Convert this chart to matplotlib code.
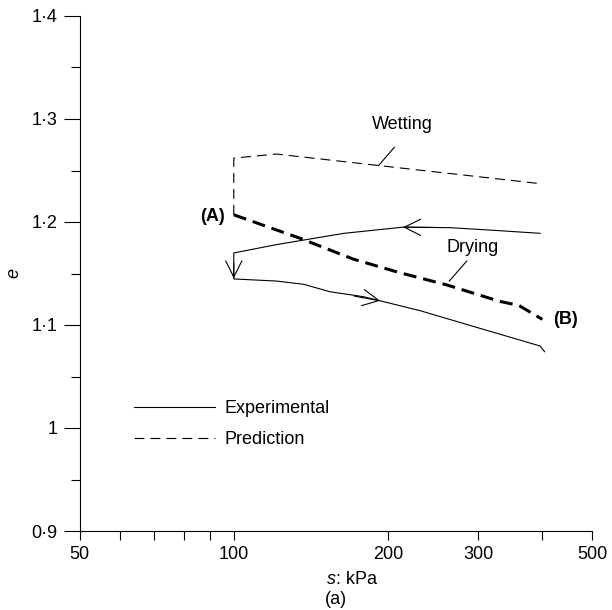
import matplotlib
matplotlib.use("Agg")
import matplotlib.pyplot as plt
from matplotlib.ticker import NullFormatter

plt.rcParams['font.family'] = ['Liberation Sans', 'DejaVu Sans']
plt.rcParams['font.size'] = 13
plt.rcParams['lines.scale_dashes'] = False

# experimental path: drying (right to left), drop at 100 kPa, then wetting (left to right)
exp_s = [396, 320, 264, 214, 164, 137, 121, 105, 100, 100, 121, 137, 154, 179, 193, 231, 302, 396, 404]
exp_e = [1.189, 1.192, 1.1945, 1.195, 1.189, 1.1825, 1.178, 1.172, 1.170,
         1.1447, 1.1427, 1.1395, 1.1323, 1.1275, 1.1235, 1.1139, 1.0968, 1.0796, 1.0741]

# predictions
wet_s = [100, 100, 121, 400]
wet_e = [1.207, 1.262, 1.266, 1.237]
dry_s = [100, 135, 171, 210, 260, 330, 360, 400]
dry_e = [1.207, 1.184, 1.164, 1.151, 1.139, 1.123, 1.119, 1.1055]

# direction arrows on experimental curve: (tip s, tip e, tail s, tail e)
arrows = [(214, 1.195, 245, 1.1947), (100, 1.1453, 100, 1.160), (193, 1.1235, 172, 1.128)]

x_major = [50, 100, 200, 300, 500]
x_minor = [60, 70, 80, 90, 400]
y_major = [0.9, 1.0, 1.1, 1.2, 1.3, 1.4]
y_labels = ['0·9', '1', '1·1', '1·2', '1·3', '1·4']
y_minor = [0.95, 1.05, 1.15, 1.25, 1.35]

fig = plt.figure(figsize=(6.12, 6.10), dpi=100)
ax = fig.add_axes([79.5 / 612, 1 - 531 / 610, 512.5 / 612, 515 / 610])

ax.plot(exp_s, exp_e, color='black', lw=0.8, label='Experimental')
ax.plot(wet_s, wet_e, color='black', lw=0.8, linestyle=(0, (7.2, 4.3)), label='Prediction')
ax.plot(dry_s, dry_e, color='black', lw=2.2, linestyle=(0, (9.4, 5.0)))

for ts, te, fs, fe in arrows:
    ax.annotate('', xy=(ts, te), xytext=(fs, fe),
                arrowprops=dict(arrowstyle='->,head_length=0.9,head_width=0.45',
                                lw=0.8, color='black', shrinkA=0, shrinkB=0))

# labels and leader lines
ax.text(96, 1.205, '(A)', fontweight='bold', ha='right', va='center')
ax.text(420, 1.105, '(B)', fontweight='bold', ha='left', va='center')
ax.text(293, 1.1754, 'Drying', ha='center', va='center')
ax.plot([284.8, 263.4], [1.1621, 1.1427], color='black', lw=0.8)
ax.text(213, 1.295, 'Wetting', ha='center', va='center')
ax.plot([191.6, 205.7], [1.2547, 1.2725], color='black', lw=0.8)

ax.set_xscale('log')
ax.set_xlim(50, 500)
ax.set_ylim(0.9, 1.4)
ax.set_xticks(x_major, [str(v) for v in x_major])
ax.set_xticks(x_minor, minor=True)
ax.xaxis.set_minor_formatter(NullFormatter())
ax.set_yticks(y_major, y_labels)
ax.set_yticks(y_minor, minor=True)

ax.tick_params(axis='x', which='both', direction='out', length=6.7, width=0.8, pad=4)
ax.tick_params(axis='y', which='major', direction='out', length=11.5, width=0.8, pad=4.5)
ax.tick_params(axis='y', which='minor', direction='out', length=6.3, width=0.8)
for side in ['top', 'right']:
    ax.spines[side].set_visible(False)
for side in ['left', 'bottom']:
    ax.spines[side].set_linewidth(0.8)

ax.set_ylabel('e', fontstyle='italic', labelpad=6)
fig.text(335.8 / 612, 1 - 580 / 610, 's', fontstyle='italic', ha='right', va='center')
fig.text(335.8 / 612, 1 - 580 / 610, ': kPa', ha='left', va='center')
fig.text(335.8 / 612, 1 - 600 / 610, '(a)', ha='center', va='center')

ax.legend(loc='upper left', bbox_to_anchor=(134.3 / 612, 1 - 400 / 610),
          bbox_transform=fig.transFigure, frameon=False, borderpad=0,
          borderaxespad=0, handlelength=4.47, handletextpad=0.55, labelspacing=0.78)

fig.savefig('out.png', dpi=100)
